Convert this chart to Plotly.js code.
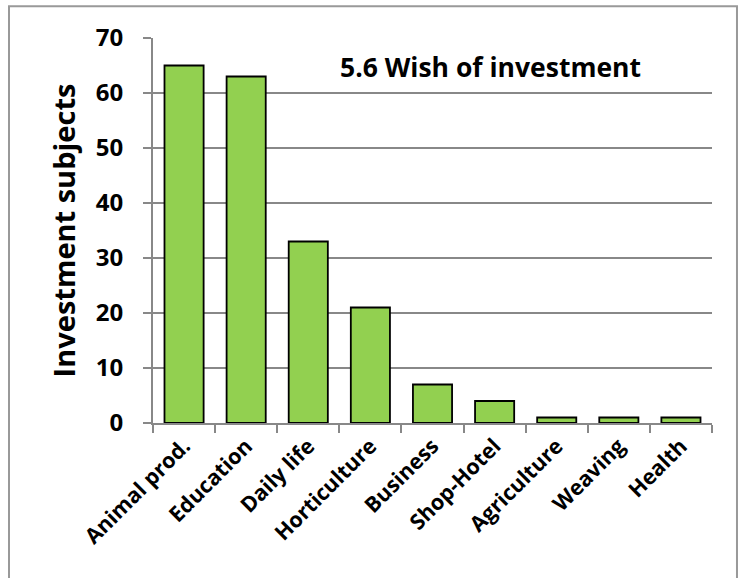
<!DOCTYPE html>
<html>
<head>
<meta charset="utf-8">
<script src="https://cdn.plot.ly/plotly-3.0.1.min.js"></script>
<style>html,body{margin:0;padding:0;background:#fff;}#chart{width:745px;height:578px;}</style>
</head>
<body>
<div id="chart"></div>
<script>
const categories = ["Animal prod.", "Education", "Daily life", "Horticulture", "Business", "Shop-Hotel", "Agriculture", "Weaving", "Health"];
const values = [65, 63, 33, 21, 7, 4, 1, 1, 1];
const yTicks = [0, 10, 20, 30, 40, 50, 60, 70];
const chartTitle = "5.6 Wish of investment";
const yTitle = "Investment subjects";

const FONT = "'Open Sans', 'Noto Sans', sans-serif";

const trace = {
  type: "bar",
  x: categories,
  y: values,
  marker: { color: "#92D050", line: { color: "#000000", width: 1.8 } },
  hoverinfo: "x+y"
};

const layout = {
  width: 745,
  height: 578,
  margin: { l: 153, r: 33, t: 38, b: 155 },
  paper_bgcolor: "#ffffff",
  plot_bgcolor: "#ffffff",
  bargap: 0.37,
  showlegend: false,
  font: { family: FONT, color: "#000000" },
  xaxis: {
    type: "category",
    tickangle: -45,
    tickfont: { family: FONT, size: 21.5, weight: "bold", color: "#000" },
    ticks: "outside",
    tickson: "boundaries",
    ticklen: 8,
    tickwidth: 2,
    tickcolor: "#888888",
    showline: true,
    linecolor: "#888888",
    linewidth: 2,
    showgrid: false,
    zeroline: false,
    fixedrange: true
  },
  yaxis: {
    range: [0, 70],
    tickvals: yTicks,
    ticktext: yTicks.map(String),
    tickfont: { family: FONT, size: 24, weight: "bold", color: "#000" },
    ticks: "outside",
    ticklen: 8,
    tickwidth: 2,
    tickcolor: "#888888",
    ticklabelstandoff: 15,
    showline: true,
    linecolor: "#888888",
    linewidth: 2,
    showgrid: true,
    gridcolor: "#888888",
    gridwidth: 2,
    zeroline: false,
    title: { text: yTitle, font: { family: FONT, size: 29, weight: "bold", color: "#000" }, standoff: 12 },
    fixedrange: true
  },
  annotations: [{
    text: chartTitle,
    xref: "paper", yref: "paper",
    x: 0.603, y: 0.925,
    xanchor: "center", yanchor: "middle",
    showarrow: false,
    font: { family: FONT, size: 26.5, weight: "bold", color: "#000" }
  }],
  shapes: [{
    type: "rect",
    xref: "paper", yref: "paper",
    x0: -0.2576, x1: 1.0447, y0: -0.5, y1: 1.0823,
    line: { color: "#999999", width: 2 },
    fillcolor: "rgba(0,0,0,0)",
    layer: "below"
  }]
};

Plotly.newPlot("chart", [trace], layout, { displayModeBar: false, staticPlot: true });
</script>
</body>
</html>
